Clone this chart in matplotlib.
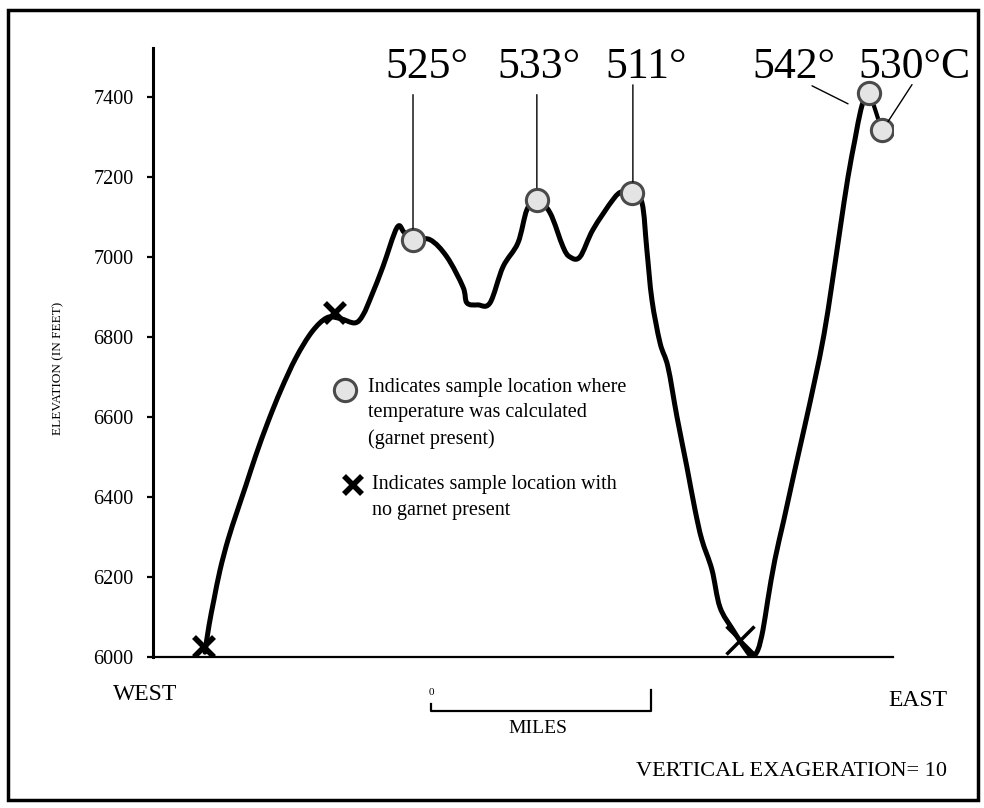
import matplotlib
matplotlib.use("Agg")
import matplotlib.pyplot as plt
import matplotlib.transforms as mtransforms
from matplotlib.patches import Rectangle, PathPatch
from matplotlib.path import Path

plt.rcParams['font.family'] = ['Liberation Serif', 'DejaVu Serif']

# profile, west to east: distance (miles) and elevation (feet)
profile_x = [0.236, 0.255, 0.277, 0.305, 0.341, 0.382, 0.423, 0.468, 0.523, 0.582,
             0.650, 0.723, 0.791, 0.850, 0.918, 0.955, 0.995, 1.045, 1.109, 1.141,
             1.182, 1.259, 1.336, 1.409, 1.427, 1.477, 1.532, 1.591, 1.659, 1.700,
             1.745, 1.805, 1.864, 1.895, 1.941, 2.000, 2.091, 2.132, 2.177, 2.223,
             2.245, 2.268, 2.305, 2.341, 2.382, 2.427, 2.464, 2.495, 2.541, 2.577,
             2.636, 2.691, 2.723, 2.750, 2.773, 2.795, 2.827, 2.868, 2.918, 2.964,
             3.009, 3.050, 3.086, 3.123, 3.159, 3.191, 3.218, 3.241, 3.255]
profile_y = [6012, 6080, 6143, 6218, 6293, 6363, 6430, 6505, 6588, 6668,
             6748, 6813, 6848, 6846, 6835, 6855, 6905, 6975, 7073, 7062,
             7043, 7043, 7000, 6925, 6885, 6880, 6885, 6975, 7035, 7118,
             7143, 7110, 7025, 7000, 7000, 7068, 7143, 7163, 7160, 7135,
             7018, 6893, 6785, 6725, 6600, 6475, 6368, 6293, 6218, 6125,
             6068, 6022, 6002, 6018, 6068, 6143, 6243, 6343, 6468, 6580,
             6693, 6805, 6930, 7068, 7198, 7293, 7368, 7403, 7410]
# short spur down to the last sample
spur_x = [3.255, 3.273, 3.305, 3.314]
spur_y = [7410, 7385, 7330, 7318]

# samples with calculated temperature (garnet present)
garnet_x = [1.182, 1.745, 2.177, 3.255, 3.314]
garnet_y = [7043, 7143, 7160, 7410, 7318]
garnet_labels = ['525°', '533°', '511°', '542°', '530°C']

# samples with no garnet
nogarnet_x = [0.232, 0.827, 2.668]
nogarnet_y = [6025, 6860, 6043]

yticks = [6000, 6200, 6400, 6600, 6800, 7000, 7200, 7400]

# label layout in pixels relative to sample: text anchor, leader start, leader end
label_layout = [
    ((-28, 162), (0, 145), (0, 11)),
    ((-39, 122), (0, 105), (0, 12)),
    ((-27, 115), (1, 108), (1, 11)),
    ((-117, 15), (-57, 7), (-21, -11)),
    ((-24, 52), (30, 45), (6, 8)),
]


def smooth_path(xs, ys):
    # catmull-rom through the traced points, drawn as cubic bezier segments
    pts = list(zip(xs, ys))
    pts = [pts[0]] + pts + [pts[-1]]
    verts = [pts[1]]
    codes = [Path.MOVETO]
    for i in range(1, len(pts) - 2):
        p0, p1, p2, p3 = pts[i - 1], pts[i], pts[i + 1], pts[i + 2]
        c1 = (p1[0] + (p2[0] - p0[0]) / 6, p1[1] + (p2[1] - p0[1]) / 6)
        c2 = (p2[0] - (p3[0] - p1[0]) / 6, p2[1] - (p3[1] - p1[1]) / 6)
        verts += [c1, c2, p2]
        codes += [Path.CURVE4] * 3
    return Path(verts, codes)


fig = plt.figure(figsize=(9.84, 8.08), dpi=100)
ax = fig.add_axes([153 / 984, 1 - 657 / 808, 740 / 984, 609 / 808])

ax.add_patch(PathPatch(smooth_path(profile_x, profile_y), fill=False, color='black',
                       lw=3.6, capstyle='round', joinstyle='round', zorder=2))
ax.add_patch(PathPatch(smooth_path(spur_x, spur_y), fill=False, color='black',
                       lw=3.0, capstyle='round', zorder=2))

circle_style = dict(marker='o', ms=16, mfc='#e4e4e4', mec='#4a4a4a', mew=2.2, ls='none')
ax.plot(garnet_x, garnet_y, zorder=3, **circle_style)
ax.plot(nogarnet_x[:2], nogarnet_y[:2], marker='x', ms=14, mew=4, color='black',
        ls='none', zorder=3)
ax.plot(nogarnet_x[2:], nogarnet_y[2:], marker='x', ms=20, mew=2.5, color='black',
        ls='none', zorder=3)

for sx, sy, lab, (tpos, lstart, lend) in zip(garnet_x, garnet_y, garnet_labels, label_layout):
    ax.annotate(lab, xy=(sx, sy), xytext=tpos, textcoords='offset pixels',
                ha='left', va='baseline', fontsize=31.5, annotation_clip=False)
    t0 = mtransforms.offset_copy(ax.transData, fig, x=lstart[0], y=lstart[1], units='dots')
    t1 = mtransforms.offset_copy(ax.transData, fig, x=lend[0], y=lend[1], units='dots')
    ax.annotate('', xy=(sx, sy), xycoords=t1, xytext=(sx, sy), textcoords=t0,
                arrowprops=dict(arrowstyle='-', lw=1.0, color='black',
                                shrinkA=0, shrinkB=0), annotation_clip=False)

ax.set_xlim(0, 3.364)
ax.set_ylim(6000, 7522)
ax.set_yticks(yticks)
ax.set_xticks([])
for side in ['top', 'right']:
    ax.spines[side].set_visible(False)
ax.spines['left'].set_linewidth(2.2)
ax.spines['bottom'].set_linewidth(1.6)
ax.tick_params(axis='y', direction='out', length=4, width=1.6, pad=10, labelsize=14.5)

# key
ax.plot([0.2595], [0.4384], transform=ax.transAxes, clip_on=False, **circle_style)
ax.text(0.2905, 0.4003, 'Indicates sample location where\ntemperature was calculated\n(garnet present)',
        transform=ax.transAxes, fontsize=14.5, va='center', ha='left', linespacing=1.45)
ax.plot([0.270], [0.2824], marker='x', ms=13, mew=4, color='black',
        transform=ax.transAxes, clip_on=False)
ax.text(0.296, 0.2619, 'Indicates sample location with\nno garnet present',
        transform=ax.transAxes, fontsize=14.5, va='center', ha='left', linespacing=1.45)

# scale bar, one mile
bar = mtransforms.blended_transform_factory(ax.transData, ax.transAxes)
ax.plot([1.264, 1.264, 2.264, 2.264], [-0.0772, -0.0887, -0.0887, -0.0542],
        color='black', lw=1.6, transform=bar, clip_on=False)
ax.text(1.264, -0.058, '0', transform=bar, fontsize=8, ha='center', va='center')
ax.text(1.75, -0.118, 'MILES', transform=bar, fontsize=14, ha='center', va='center')

fig.text(58 / 984, 1 - 368 / 808, 'ELEVATION (IN FEET)', rotation=90,
         fontsize=9.5, ha='center', va='center')
fig.text(113 / 984, 1 - 695 / 808, 'WEST', fontsize=17, ha='left', va='center')
fig.text(888 / 984, 1 - 700 / 808, 'EAST', fontsize=17, ha='left', va='center')
fig.text(947 / 984, 1 - 772 / 808, 'VERTICAL EXAGERATION= 10', fontsize=16,
         ha='right', va='center')

fig.add_artist(Rectangle((8 / 984, 1 - 800 / 808), 970 / 984, 790 / 808,
                         transform=fig.transFigure, fill=False, lw=2.5, color='black'))

fig.savefig('out.png', dpi=100)
